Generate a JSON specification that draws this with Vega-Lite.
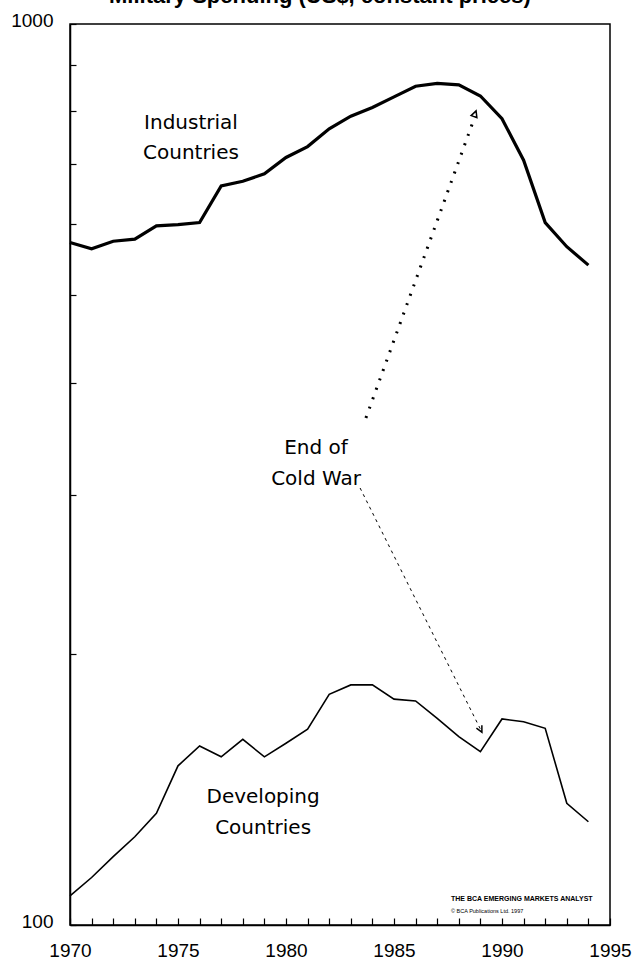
{
  "$schema": "https://vega.github.io/schema/vega-lite/v6.json",
  "width": 540,
  "height": 901,
  "autosize": {"type": "none"},
  "padding": {"left": 70, "top": 24, "right": 22, "bottom": 34},
  "background": "white",
  "config": {
    "view": {"stroke": "black", "strokeWidth": 1.5},
    "axis": {"domainColor": "black", "domainWidth": 1.5, "tickColor": "black", "tickWidth": 1.2, "labelColor": "black", "labelFont": "Liberation Sans", "labelFontSize": 19, "grid": false, "labelFlush": false, "labelOverlap": false, "labelBound": false}
  },
  "encoding": {
    "x": {"field": "year", "type": "quantitative", "scale": {"domain": [1970, 1995], "nice": false, "zero": false},
          "axis": {"title": null, "values": [1970,1971,1972,1973,1974,1975,1976,1977,1978,1979,1980,1981,1982,1983,1984,1985,1986,1987,1988,1989,1990,1991,1992,1993,1994,1995], "format": "d", "labelExpr": "datum.value % 5 === 0 ? datum.label : ''", "tickSize": -7, "labelPadding": 23}},
    "y": {"field": "value", "type": "quantitative", "scale": {"type": "log", "domain": [100, 1000], "nice": false},
          "axis": {"title": null, "values": [100,200,300,400,500,600,700,800,900,1000], "format": "d", "labelExpr": "datum.value === 100 || datum.value === 1000 ? datum.label : ''", "tickSize": -6, "labelPadding": 23, "labelOffset": -4}}
  },
  "layer": [
    {
      "data": {"values": [
        {"year": 1970, "value": 572, "series": "Industrial"},
        {"year": 1971, "value": 563, "series": "Industrial"},
        {"year": 1972, "value": 574, "series": "Industrial"},
        {"year": 1973, "value": 577, "series": "Industrial"},
        {"year": 1974, "value": 597, "series": "Industrial"},
        {"year": 1975, "value": 599, "series": "Industrial"},
        {"year": 1976, "value": 602, "series": "Industrial"},
        {"year": 1977, "value": 661, "series": "Industrial"},
        {"year": 1978, "value": 669, "series": "Industrial"},
        {"year": 1979, "value": 682, "series": "Industrial"},
        {"year": 1980, "value": 711, "series": "Industrial"},
        {"year": 1981, "value": 731, "series": "Industrial"},
        {"year": 1982, "value": 765, "series": "Industrial"},
        {"year": 1983, "value": 790, "series": "Industrial"},
        {"year": 1984, "value": 808, "series": "Industrial"},
        {"year": 1985, "value": 830, "series": "Industrial"},
        {"year": 1986, "value": 853, "series": "Industrial"},
        {"year": 1987, "value": 859, "series": "Industrial"},
        {"year": 1988, "value": 856, "series": "Industrial"},
        {"year": 1989, "value": 832, "series": "Industrial"},
        {"year": 1990, "value": 785, "series": "Industrial"},
        {"year": 1991, "value": 706, "series": "Industrial"},
        {"year": 1992, "value": 602, "series": "Industrial"},
        {"year": 1993, "value": 566, "series": "Industrial"},
        {"year": 1994, "value": 540, "series": "Industrial"},
        {"year": 1970, "value": 107.7, "series": "Developing"},
        {"year": 1971, "value": 112.9, "series": "Developing"},
        {"year": 1972, "value": 119.1, "series": "Developing"},
        {"year": 1973, "value": 125.3, "series": "Developing"},
        {"year": 1974, "value": 133.0, "series": "Developing"},
        {"year": 1975, "value": 150.2, "series": "Developing"},
        {"year": 1976, "value": 158.0, "series": "Developing"},
        {"year": 1977, "value": 153.7, "series": "Developing"},
        {"year": 1978, "value": 160.7, "series": "Developing"},
        {"year": 1979, "value": 153.7, "series": "Developing"},
        {"year": 1980, "value": 159.1, "series": "Developing"},
        {"year": 1981, "value": 164.9, "series": "Developing"},
        {"year": 1982, "value": 180.3, "series": "Developing"},
        {"year": 1983, "value": 184.7, "series": "Developing"},
        {"year": 1984, "value": 184.7, "series": "Developing"},
        {"year": 1985, "value": 178.1, "series": "Developing"},
        {"year": 1986, "value": 177.3, "series": "Developing"},
        {"year": 1987, "value": 169.6, "series": "Developing"},
        {"year": 1988, "value": 161.8, "series": "Developing"},
        {"year": 1989, "value": 155.7, "series": "Developing"},
        {"year": 1990, "value": 169.3, "series": "Developing"},
        {"year": 1991, "value": 168.1, "series": "Developing"},
        {"year": 1992, "value": 165.3, "series": "Developing"},
        {"year": 1993, "value": 136.5, "series": "Developing"},
        {"year": 1994, "value": 130.2, "series": "Developing"}
      ]},
      "mark": {"type": "line", "color": "black", "strokeJoin": "miter"},
      "encoding": {
        "detail": {"field": "series"},
        "strokeWidth": {"field": "series", "type": "nominal", "scale": {"domain": ["Industrial", "Developing"], "range": [3.2, 1.6]}, "legend": null}
      }
    },
    {
      "data": {"values": [
        {"label": "Industrial", "year": 1975.6, "value": 776.7},
        {"label": "Countries", "year": 1975.6, "value": 719.3},
        {"label": "End of", "year": 1981.39, "value": 338.7},
        {"label": "Cold War", "year": 1981.39, "value": 312.6},
        {"label": "Developing", "year": 1978.94, "value": 138.7},
        {"label": "Countries", "year": 1978.94, "value": 128.1}
      ]},
      "mark": {"type": "text", "font": "DejaVu Sans", "fontSize": 20, "color": "black", "align": "center", "baseline": "middle"},
      "encoding": {"text": {"field": "label"}}
    },
    {
      "data": {"values": [{"label": "Military Spending (US$, constant prices)", "year": 1981.57, "value": 1055}]},
      "mark": {"type": "text", "font": "Liberation Sans", "fontWeight": "bold", "fontSize": 22, "color": "black", "align": "center", "baseline": "alphabetic", "clip": false},
      "encoding": {"text": {"field": "label"}}
    },
    {
      "data": {"values": [{"year": 1983.7, "value": 365.4, "year2": 1988.75, "value2": 790}]},
      "mark": {"type": "rule", "color": "black", "strokeWidth": 3, "strokeDash": [2, 8]},
      "encoding": {"x2": {"field": "year2"}, "y2": {"field": "value2"}}
    },
    {
      "data": {"values": [{"year": 1988.8, "value": 800.9}]},
      "mark": {"type": "point", "shape": "M-0.5,1L0,0L0.5,1Z", "size": 150, "angle": 20, "filled": false, "color": "black", "strokeWidth": 1.5, "opacity": 1},
      "encoding": {}
    },
    {
      "data": {"values": [{"year": 1983.43, "value": 305.5, "year2": 1989.07, "value2": 163.7}]},
      "mark": {"type": "rule", "color": "black", "strokeWidth": 1, "strokeDash": [3, 4]},
      "encoding": {"x2": {"field": "year2"}, "y2": {"field": "value2"}}
    },
    {
      "data": {"values": [{"year": 1989.07, "value": 163.7}]},
      "mark": {"type": "point", "shape": "M-0.5,1L0,0L0.5,1", "size": 150, "angle": 153, "filled": false, "color": "black", "strokeWidth": 1.5, "opacity": 1},
      "encoding": {}
    },
    {
      "data": {"values": [{"label": "THE BCA EMERGING MARKETS ANALYST", "year": 1987.64, "value": 106.9}]},
      "mark": {"type": "text", "font": "Liberation Sans", "fontWeight": "bold", "fontSize": 7, "color": "black", "align": "left", "baseline": "middle"},
      "encoding": {"text": {"field": "label"}}
    },
    {
      "data": {"values": [{"label": "© BCA Publications Ltd. 1997", "year": 1987.64, "value": 103.7}]},
      "mark": {"type": "text", "font": "Liberation Sans", "fontSize": 5.5, "color": "black", "align": "left", "baseline": "middle"},
      "encoding": {"text": {"field": "label"}}
    }
  ]
}
